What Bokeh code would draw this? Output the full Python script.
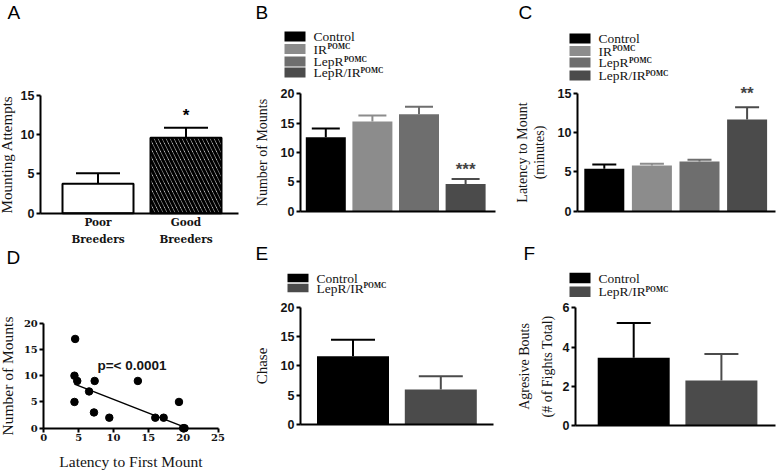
from bokeh.plotting import figure
from bokeh.layouts import row, column
from bokeh.models import Range1d, FixedTicker
from bokeh.embed import file_html
from bokeh.resources import INLINE
from bokeh.core.properties import value

# ---------------- data ----------------
legend4_names = ["Control", "IR", "LepR", "LepR/IR"]
legend4_sups = ["", "POMC", "POMC", "POMC"]
legend2_names = ["Control", "LepR/IR"]
legend2_sups = ["", "POMC"]

a_categories = ["Poor Breeders", "Good Breeders"]
a_means = [3.75, 9.6]
a_sem = [1.35, 1.3]
a_stars = ["", "*"]
a_yticks = [0, 5, 10, 15]

b_means = [12.6, 15.3, 16.5, 4.65]
b_sem = [1.5, 1.0, 1.3, 0.85]
b_stars = ["", "", "", "***"]
b_yticks = [0, 5, 10, 15, 20]

c_means = [5.39, 5.81, 6.32, 11.66]
c_sem = [0.55, 0.21, 0.21, 1.56]
c_stars = ["", "", "", "**"]
c_yticks = [0, 5, 10, 15]

d_latency = [4.5, 4.4, 4.8, 4.4, 6.5, 7.3, 7.2, 9.4, 13.5, 16.0, 17.2, 19.4, 20.0, 20.2]
d_mounts = [17, 10, 9, 5, 7, 9, 3, 2, 9, 2, 2, 5, 0, 0]
d_fit_latency = [4.4, 20.2]
d_fit_mounts = [8.4, 0.2]
d_pvalue = "p=< 0.0001"
d_xticks = [0, 5, 10, 15, 20, 25]
d_yticks = [0, 5, 10, 15, 20]

e_means = [11.65, 5.97]
e_sem = [2.79, 2.27]
e_yticks = [0, 5, 10, 15, 20]

f_means = [3.45, 2.29]
f_sem = [1.78, 1.36]
f_yticks = [0, 2, 4, 6]

# ---------------- style ----------------
COL4 = ["#000000", "#8c8c8c", "#6e6e6e", "#4b4b4b"]
COL2 = ["#000000", "#4b4b4b"]
SERIF = "Liberation Serif"
SANS = "Liberation Sans"
TXT = "#141414"
SUP_DX = {"IR": 14.0, "LepR": 30.5, "LepR/IR": 47.0}


class PanelMap:
    """Maps page pixels of one panel box to that panel's data coordinates."""
    def __init__(self, box, xref, yref):
        self.X0, self.Y0, self.W, self.H = box
        (ax, av), (bx, bv) = xref
        self.kx = (bx - ax) / (bv - av)
        self.ax, self.av = ax, av
        (ay, aw), (by, bw) = yref
        self.ky = (ay - by) / (bw - aw)
        self.ay, self.aw = ay, aw

    def x(self, px):
        return self.av + (px - self.ax) / self.kx

    def y(self, py):
        return self.aw + (self.ay - py) / self.ky


def panel(m, yaxis_px, xaxis_px0, xaxis_px1, ybounds):
    p = figure(width=m.W, height=m.H,
               x_range=Range1d(m.x(m.X0), m.x(m.X0 + m.W)),
               y_range=Range1d(m.y(m.Y0 + m.H), m.y(m.Y0)),
               output_backend="svg", toolbar_location=None,
               min_border=0, min_border_left=0, min_border_right=0,
               min_border_top=0, min_border_bottom=0)
    p.title.visible = False
    p.xgrid.visible = False
    p.ygrid.visible = False
    p.outline_line_color = None
    for ax in p.axis:
        ax.axis_line_width = 2
        ax.axis_line_color = "black"
        ax.major_tick_line_width = 2
        ax.major_tick_line_color = "black"
        ax.major_tick_in = 0
        ax.major_tick_out = 4
        ax.minor_tick_line_color = None
        ax.major_label_standoff = 2
        ax.major_label_text_color = TXT
        ax.axis_label_text_font = SERIF
        ax.axis_label_text_font_style = "normal"
        ax.axis_label_text_color = TXT
    p.yaxis[0].fixed_location = m.x(yaxis_px)
    p.yaxis[0].bounds = ybounds
    p.xaxis[0].fixed_location = 0
    p.xaxis[0].bounds = (m.x(xaxis_px0), m.x(xaxis_px1))
    return p


def setup_y(p, ticks, label, size, standoff, font=SANS, tsize="12.5px", lh=1.2):
    ax = p.yaxis[0]
    ax.ticker = FixedTicker(ticks=ticks)
    ax.axis_label = label
    ax.axis_label_text_font_size = size
    ax.axis_label_standoff = standoff
    ax.axis_label_text_line_height = lh
    ax.major_label_text_font = font
    ax.major_label_text_font_style = "bold"
    ax.major_label_text_font_size = tsize


def hide_x(p):
    ax = p.xaxis[0]
    ax.ticker = FixedTicker(ticks=[])
    ax.major_tick_out = 0


def bars(p, m, means, sem, colors, width_px, cap_px, stars=None, star_dy=-10,
         star_color="#444444", **kw):
    xs = list(range(len(means)))
    upper = [mv + s for mv, s in zip(means, sem)]
    cap = cap_px / m.kx
    p.vbar(x=xs, top=means, width=width_px / m.kx, fill_color=colors, **kw)
    p.segment(x0=xs, y0=means, x1=xs, y1=upper, line_color=colors, line_width=2)
    p.segment(x0=[x - cap for x in xs], y0=upper, x1=[x + cap for x in xs],
              y1=upper, line_color=colors, line_width=2)
    if stars:
        p.text(x=xs, y=upper, text=stars, text_font=value(SANS),
               text_font_style="bold", text_font_size="17px",
               text_align="center", text_baseline="middle",
               text_color=star_color, y_offset=star_dy)


def letter(p, m, txt, px, mid):
    p.text(x=[m.x(px)], y=[m.y(mid)], text=[txt], text_font=value(SANS),
           text_font_size="19px", text_baseline="middle", text_color="black")


def legend(p, m, names, sups, colors, bx0, bx1, rows_y, bh, tx):
    n = len(names)
    p.rect(x=[m.x((bx0 + bx1) / 2)] * n, y=[m.y(r) for r in rows_y],
           width=bx1 - bx0, height=bh, width_units="screen", height_units="screen",
           fill_color=colors, line_color=None)
    mids = [m.y(r) for r in rows_y]
    p.text(x=[m.x(tx)] * n, y=mids, text=names, text_font=value(SERIF),
           text_font_size="13.5px", text_baseline="middle", text_color=TXT)
    sx, sy, st, so = [], [], [], []
    for name, sup, b in zip(names, sups, mids):
        if sup:
            sx.append(m.x(tx))
            sy.append(b)
            st.append(sup)
            so.append(SUP_DX[name])
    p.text(x=sx, y=sy, text=st, x_offset=so, y_offset=-2.5, text_font=value(SERIF),
           text_font_style="bold", text_font_size="7.5px",
           text_baseline="middle", text_color=TXT)


# ---------------- panel A ----------------
mA = PanelMap((0, 0, 255, 246), ((97.5, 0), (185.5, 1)), ((212.7, 0), (95, 15)))
pA = panel(mA, 40, 40, 238, (0, 15))
setup_y(pA, a_yticks, "Mounting Attempts", "15px", 3)
axA = pA.xaxis[0]
axA.ticker = FixedTicker(ticks=[0, 1])
axA.major_label_overrides = {i: c.replace(" ", "\n") for i, c in enumerate(a_categories)}
axA.major_tick_out = 0
axA.major_label_standoff = 3
axA.major_label_text_font = "DejaVu Serif"
axA.major_label_text_font_style = "bold"
axA.major_label_text_font_size = "10.5px"
axA.major_label_text_line_height = 1.4
bars(pA, mA, a_means, a_sem, ["white", "white"], 71, 22, stars=a_stars,
     star_dy=-12, star_color="black", line_color="black", line_width=2,
     hatch_pattern=[" ", "\\"], hatch_color="black", hatch_scale=8, hatch_weight=3.2)
for r in pA.renderers[1:3]:
    r.glyph.line_color = "black"
letter(pA, mA, "A", 7, 11.5)

# ---------------- panel D ----------------
mD = PanelMap((0, 246, 255, 229), ((43.3, 0), (217.5, 25)), ((427.7, 0), (322.7, 20)))
pD = panel(mD, 43.3, 43.3, 217.5, (0, 20))
setup_y(pD, d_yticks, "Number of Mounts", "15.5px", 5, font="DejaVu Serif", tsize="10px")
axD = pD.xaxis[0]
axD.ticker = FixedTicker(ticks=d_xticks)
axD.axis_label = "Latency to First Mount"
axD.axis_label_text_font_size = "15.5px"
axD.axis_label_standoff = 8
axD.major_label_text_font = "DejaVu Serif"
axD.major_label_text_font_style = "bold"
axD.major_label_text_font_size = "10px"
pD.line(d_fit_latency, d_fit_mounts, line_color="black", line_width=1.5)
pD.scatter(d_latency, d_mounts, size=7.5, color="black")
pD.text(x=[7.7], y=[12], text=[d_pvalue], text_font=value(SANS), text_font_style="bold",
        text_font_size="13.5px", text_baseline="middle", text_color=TXT)
letter(pD, mD, "D", 6, 256.5)

# ---------------- panel B ----------------
mB = PanelMap((255, 0, 260, 240), ((325.3, 0), (371.9, 1)), ((210.7, 0), (93.3, 20)))
pB = panel(mB, 300, 300, 495, (0, 20))
setup_y(pB, b_yticks, "Number of Mounts", "14px", 8)
hide_x(pB)
bars(pB, mB, b_means, b_sem, COL4, 40, 14, stars=b_stars, star_dy=-9, line_color=None)
letter(pB, mB, "B", 255, 11.5)
legend(pB, mB, legend4_names, legend4_sups, COL4, 284, 305, [36, 48.5, 61, 72], 10, 313)

# ---------------- panel E ----------------
mE = PanelMap((255, 240, 260, 235), ((352.5, 0), (440.3, 1)), ((424, 0), (306.7, 20)))
pE = panel(mE, 300, 300, 493.3, (0, 20))
setup_y(pE, e_yticks, "Chase", "15px", 8)
hide_x(pE)
bars(pE, mE, e_means, e_sem, COL2, 72, 22, line_color=None)
letter(pE, mE, "E", 255, 252.5)
legend(pE, mE, legend2_names, legend2_sups, COL2, 287, 308, [277.5, 287.5], 8.5, 316)

# ---------------- panel C ----------------
mC = PanelMap((515, 0, 261, 240), ((603.8, 0), (651.4, 1)), ((210.7, 0), (92.7, 15)))
pC = panel(mC, 577, 577, 775, (0, 15))
setup_y(pC, c_yticks, "Latency to Mount\n(minutes)", "14px", 8, lh=1.1)
hide_x(pC)
bars(pC, mC, c_means, c_sem, COL4, 40, 12, stars=c_stars, star_dy=-14, line_color=None)
letter(pC, mC, "C", 518, 11.5)
legend(pC, mC, legend4_names, legend4_sups, COL4, 569, 590, [38, 50.5, 62, 75], 10, 598)

# ---------------- panel F ----------------
mF = PanelMap((515, 240, 261, 235), ((633.2, 0), (720.9, 1)), ((425, 0), (307.3, 6)))
pF = panel(mF, 575, 575, 775, (0, 6))
setup_y(pF, f_yticks, "Agresive Bouts\n(# of Fights Total)", "14px", 5, lh=1.5)
hide_x(pF)
bars(pF, mF, f_means, f_sem, COL2, 72, 17, line_color=None)
letter(pF, mF, "F", 523, 252.5)
legend(pF, mF, legend2_names, legend2_sups, COL2, 569, 590, [277.5, 291.2], 10.5, 598)

layout = row(column(pA, pD), column(pB, pE), column(pC, pF))

with open("out.html", "w") as fh:
    fh.write(file_html(layout, INLINE))
